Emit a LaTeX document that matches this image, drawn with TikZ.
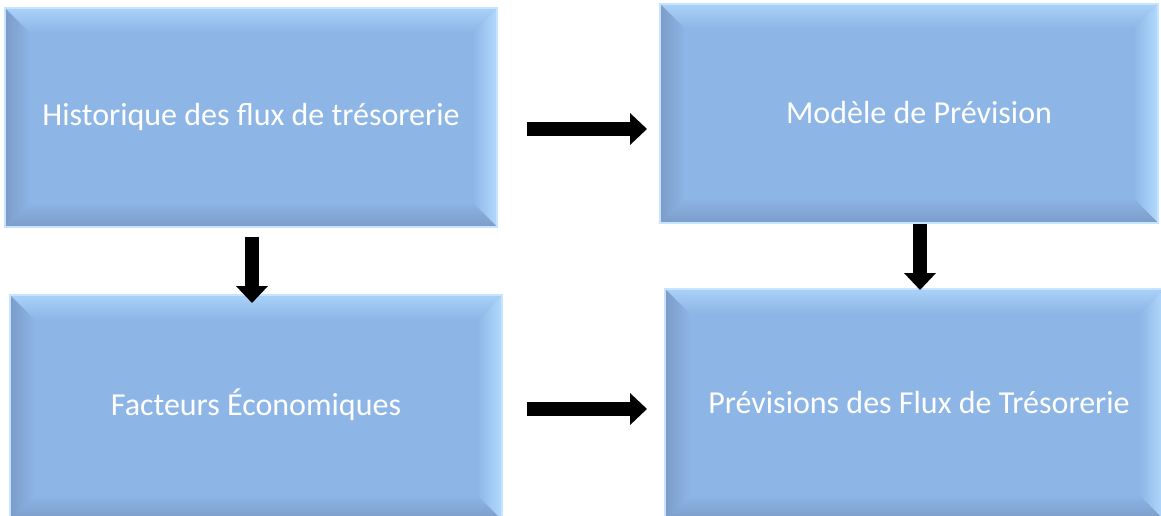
\documentclass[tikz,border=0pt]{standalone}
\usepackage{fontspec}
\setmainfont{Carlito}
\usetikzlibrary{arrows.meta}
\definecolor{boxmain}{HTML}{8DB5E6}
\definecolor{boxlight}{HTML}{A9D1F8}
\definecolor{boxlighter}{HTML}{B2DAFD}
\definecolor{boxdark}{HTML}{7C9CC8}
\definecolor{boxedge}{HTML}{C6E4FF}
\tikzset{
  boxtext/.style={text=white, font=\fontsize{32}{38}\selectfont, inner sep=0pt},
  blockarrow/.style={line width=14pt, -{Triangle[length=17pt,width=31pt]}},
}
% \bevelbox{name}{x1}{y1}{x2}{y2}{text}{text x}{text y}
\newcommand{\bevelbox}[8]{%
  \fill[boxmain] (#2,#3) rectangle (#4,#5);
  \shade[top color=boxlight, bottom color=boxmain] (#2,#3) -- (#4,#3) -- (#4-25,#3+25) -- (#2+25,#3+25) -- cycle;
  \shade[left color=boxmain, right color=boxlighter] (#4,#3) -- (#4,#5) -- (#4-25,#5-25) -- (#4-25,#3+25) -- cycle;
  \shade[top color=boxmain, bottom color=boxdark] (#2,#5) -- (#4,#5) -- (#4-25,#5-25) -- (#2+25,#5-25) -- cycle;
  \shade[left color=boxdark, right color=boxmain] (#2,#3) -- (#2+25,#3+25) -- (#2+25,#5-25) -- (#2,#5) -- cycle;
  \draw[boxedge, line width=1.5pt] (#2,#3) rectangle (#4,#5);
  \node[boxtext] (#1) at (#7,#8) {#6};
  \coordinate (#1-nw) at (#2,#3);
  \coordinate (#1-se) at (#4,#5);
}
\begin{document}
\begin{tikzpicture}[x=1pt,y=-1pt]
\useasboundingbox (0,0) rectangle (1161,515);
\fill[white] (0,0) rectangle (1161,515);
\bevelbox{hist}{5}{8}{497}{227}{Historique des flux de trésorerie}{251}{117}
\bevelbox{model}{660}{4}{1158}{223}{Modèle de Prévision}{919}{113}
\bevelbox{fact}{10}{295}{502}{520}{Facteurs Économiques}{256}{405}
\bevelbox{prev}{665}{289}{1164}{520}{Prévisions des Flux de Trésorerie}{919}{402}
\coordinate (a1s) at (527,129);
\coordinate (a1e) at (647,129);
\coordinate (a2s) at (527,409);
\coordinate (a2e) at (647,409);
\coordinate (d1s) at (252,237);
\coordinate (d1e) at (252,303);
\coordinate (d2s) at (920,224);
\coordinate (d2e) at (920,290);
\draw[blockarrow] (a1s) -- (a1e);
\draw[blockarrow] (a2s) -- (a2e);
\draw[blockarrow] (d1s) -- (d1e);
\draw[blockarrow] (d2s) -- (d2e);
\end{tikzpicture}
\end{document}
